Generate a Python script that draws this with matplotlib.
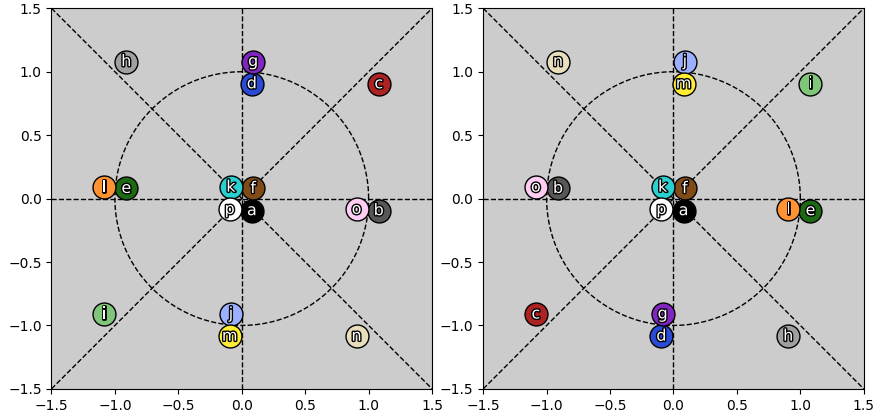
import numpy as np
import matplotlib

matplotlib.use("Agg")

import matplotlib.pyplot as plt
import matplotlib.patheffects as pe

labels = list("abcdefghijklmnop")
colors = ["#000000", "#575757", "#AD2323", "#2A4BD7", "#1D6914", "#814A19",
          "#8126C0", "#A0A0A0", "#81C57A", "#9DAFFF", "#29D0D0", "#FF9233",
          "#FFEE33", "#E9DEBB", "#FFCDF3", "#FFFFFF"]

# positions
left_x = [0.08, 1.08, 1.08, 0.08, -0.91, 0.09, 0.09, -0.91,
          -1.085, -0.085, -0.085, -1.085, -0.095, 0.905, 0.905, -0.095]
left_y = [-0.095, -0.095, 0.905, 0.905, 0.08, 0.08, 1.08, 1.08,
          -0.91, -0.91, 0.09, 0.09, -1.085, -1.085, -0.085, -0.085]

# positions
right_x = [0.08, -0.91, -1.085, -0.095, 1.08, 0.09, -0.085, 0.905,
           1.08, 0.09, -0.085, 0.905, 0.08, -0.91, -1.085, -0.095]
right_y = [-0.095, 0.08, -0.91, -1.085, -0.095, 0.08, -0.91, -1.085,
           0.905, 1.08, 0.09, -0.085, 0.905, 1.08, 0.09, -0.085]

ticks = [-1.5, -1.0, -0.5, 0.0, 0.5, 1.0, 1.5]


def draw_panel(ax, xs, ys):
    ax.set_facecolor("#cccccc")
    guide = dict(color="black", linestyle="--", linewidth=1, zorder=1)
    ax.plot([-1.5, 1.5], [0, 0], **guide)
    ax.plot([0, 0], [-1.5, 1.5], **guide)
    ax.plot([-1.5, 1.5], [-1.5, 1.5], **guide)
    ax.plot([-1.5, 1.5], [1.5, -1.5], **guide)
    t = np.linspace(0, 2 * np.pi, 300)
    ax.plot(np.cos(t), np.sin(t), **guide)

    for x, y, lab, col in zip(xs, ys, labels, colors):
        ax.plot(x, y, "o", markersize=16.5, markerfacecolor=col,
                markeredgecolor="black", markeredgewidth=1, zorder=3)
        ax.text(x, y, lab, ha="center", va="center", fontsize=11.5,
                color="white", zorder=4,
                path_effects=[pe.withStroke(linewidth=2, foreground="black")])

    ax.set_xlim(-1.5, 1.5)
    ax.set_ylim(-1.5, 1.5)
    ax.set_xticks(ticks)
    ax.set_yticks(ticks)
    ax.set_aspect("equal")


fig, (ax1, ax2) = plt.subplots(1, 2, figsize=(8.75, 4.15), dpi=100)
fig.subplots_adjust(left=0.058, right=0.988, bottom=0.063, top=0.98, wspace=0.13)
draw_panel(ax1, left_x, left_y)
draw_panel(ax2, right_x, right_y)

fig.savefig("out.png", dpi=100)
